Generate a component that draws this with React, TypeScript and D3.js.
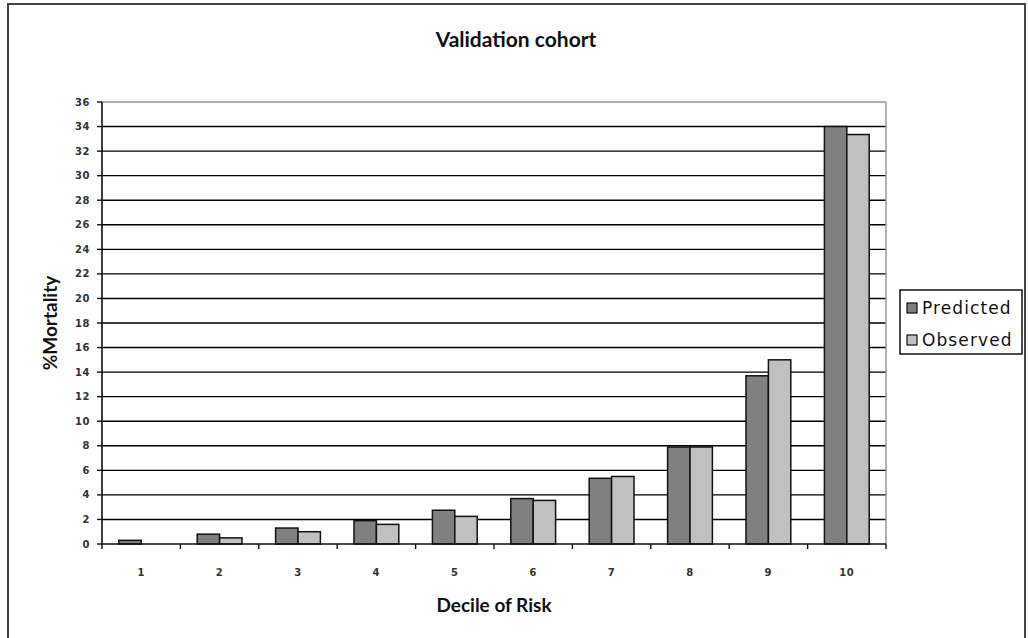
import React from "react";
import * as d3 from "d3";

const categories = ["1", "2", "3", "4", "5", "6", "7", "8", "9", "10"];
const predicted = [0.3, 0.8, 1.3, 1.9, 2.75, 3.7, 5.35, 7.9, 13.7, 34.0];
const observed = [0.0, 0.5, 1.0, 1.6, 2.25, 3.55, 5.5, 7.9, 15.0, 33.35];
const seriesNames = ["Predicted", "Observed"];
const seriesColors = ["#808080", "#c0c0c0"];
const yTicks = d3.range(0, 37, 2);

const W = 1028;
const H = 638;
const plot = { left: 102, right: 886, top: 102, bottom: 544 };
const tickFont = "'DejaVu Sans', sans-serif";
const titleFont = "Lato, 'Open Sans', sans-serif";

export default function App() {
  const x = d3.scaleBand<string>().domain(categories).range([plot.left, plot.right]).paddingInner(0).paddingOuter(0);
  const y = d3.scaleLinear().domain([0, 36]).range([plot.bottom, plot.top]);
  const step = x.bandwidth();
  const barW = step / 3.5;
  const groupOffset = (step - 2 * barW) / 2;
  const series = [predicted, observed];

  return (
    <svg width={W} height={H} style={{ position: "absolute", left: 0, top: 0, display: "block", background: "#fff" }}>
      <rect x={8} y={4} width={1017} height={660} fill="#fff" stroke="#444" strokeWidth={2} />
      <text x={516} y={47} textAnchor="middle" fontFamily={titleFont} fontWeight="bold" fontSize={21} fill="#111">
        Validation cohort
      </text>
      {/* gridlines */}
      {yTicks.filter((t) => t > 0 && t < 36).map((t) => (
        <line key={t} x1={plot.left} x2={plot.right} y1={y(t)} y2={y(t)} stroke="#000" strokeWidth={1.4} />
      ))}
      <line x1={plot.left} x2={plot.right} y1={y(36)} y2={y(36)} stroke="#999" strokeWidth={1.5} />
      <line x1={plot.right} x2={plot.right} y1={plot.top} y2={plot.bottom} stroke="#999" strokeWidth={1.5} />
      {/* bars */}
      {categories.map((c, i) => (
        <g key={c}>
          {series.map((s, k) => {
            const v = s[i];
            if (v <= 0) return null;
            const bx = (x(c) as number) + groupOffset + k * barW;
            return (
              <rect key={k} x={bx} y={y(v)} width={barW} height={y(0) - y(v)} fill={seriesColors[k]} stroke="#111" strokeWidth={1.5} />
            );
          })}
        </g>
      ))}
      {/* y axis */}
      <line x1={plot.left} x2={plot.left} y1={plot.top} y2={plot.bottom} stroke="#111" strokeWidth={1.6} />
      {yTicks.map((t) => (
        <g key={t}>
          <line x1={plot.left - 5} x2={plot.left} y1={y(t)} y2={y(t)} stroke="#111" strokeWidth={1.4} />
          <text x={90} y={y(t)} dy="0.36em" textAnchor="end" fontFamily={tickFont} fontSize={10} fontWeight="bold" letterSpacing={0.6} fill="#333">
            {t}
          </text>
        </g>
      ))}
      {/* x axis */}
      <line x1={plot.left} x2={plot.right} y1={plot.bottom} y2={plot.bottom} stroke="#111" strokeWidth={1.6} />
      {categories.concat(["end"]).map((c, i) => {
        const tx = plot.left + i * step;
        return <line key={"t" + i} x1={tx} x2={tx} y1={plot.bottom} y2={plot.bottom + 5} stroke="#111" strokeWidth={1.4} />;
      })}
      {categories.map((c) => (
        <text key={"l" + c} x={(x(c) as number) + step / 2} y={576} textAnchor="middle" fontFamily={tickFont} fontSize={10} fontWeight="bold" letterSpacing={0.6} fill="#333">
          {c}
        </text>
      ))}
      <text x={494} y={612} textAnchor="middle" fontFamily={titleFont} fontWeight="bold" fontSize={19} fill="#111">
        Decile of Risk
      </text>
      <text transform={`translate(57, ${(plot.top + plot.bottom) / 2}) rotate(-90)`} textAnchor="middle" fontFamily={titleFont} fontWeight="bold" fontSize={19} fill="#111">
        %Mortality
      </text>
      {/* legend */}
      <rect x={900} y={290} width={122} height={64} fill="#fff" stroke="#111" strokeWidth={1.5} />
      {seriesNames.map((n, k) => (
        <g key={n}>
          <rect x={907} y={303 + k * 32} width={10} height={10} fill={seriesColors[k]} stroke="#111" strokeWidth={1.2} />
          <text x={922} y={308 + k * 32} dy="0.36em" fontFamily={tickFont} fontSize={17} letterSpacing={1.1} fill="#111">
            {n}
          </text>
        </g>
      ))}
    </svg>
  );
}
